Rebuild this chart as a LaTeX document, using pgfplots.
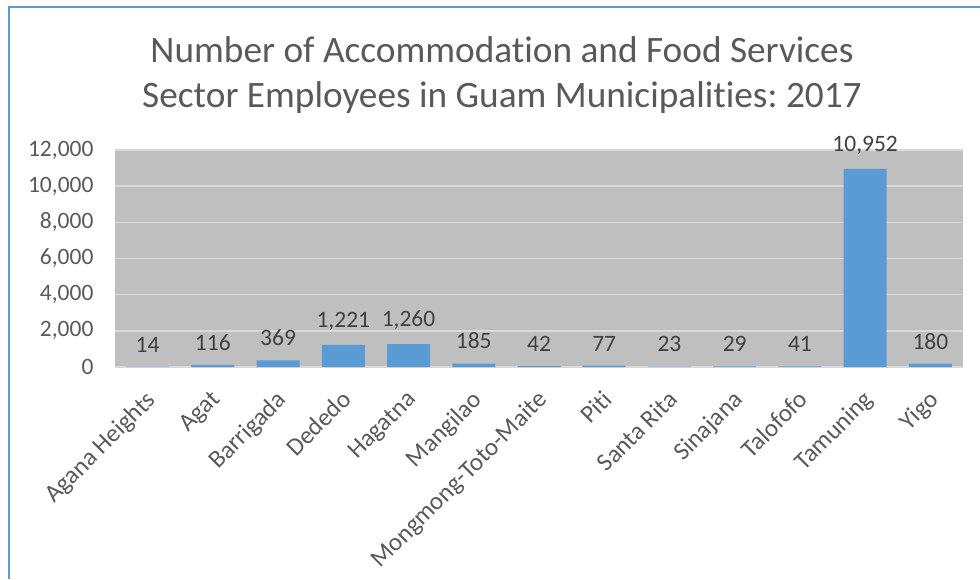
\documentclass[border=0pt]{standalone}
\usepackage{fontspec}
\setmainfont{Carlito}[Ligatures=NoCommon]
\usepackage{pgfplots}
\pgfplotsset{compat=1.18}
\definecolor{barblue}{HTML}{5B9BD5}
\definecolor{plotbg}{HTML}{BFBFBF}
\definecolor{gridc}{HTML}{D9D9D9}
\definecolor{txt}{HTML}{595959}
\definecolor{lbl}{HTML}{404040}
\frenchspacing
\begin{document}
\begin{tikzpicture}[x=1pt,y=1pt]
\useasboundingbox (0,0) rectangle (980,579);
% frame, left and top edges only
\draw[barblue, line width=2pt] (9,0) -- (9,572) -- (980,572);
\node[align=center, text=txt, font=\fontsize{37.3}{45}\selectfont] at (502,504)
  {Number of Accommodation and Food Services\\Sector Employees in Guam Municipalities: 2017};
\begin{axis}[
  at={(115pt,212pt)}, anchor=south west,
  scale only axis, width=848pt, height=217pt,
  axis background/.style={fill=plotbg},
  axis line style={draw=none},
  ybar, bar width=43pt,
  xmin=-0.5, xmax=12.5,
  ymin=0, ymax=12000,
  ytick={0,2000,...,12000},
  xtick={0,...,12},
  xticklabels={Agana Heights,Agat,Barrigada,Dededo,Hagatna,Mangilao,Mongmong-Toto-Maite,Piti,Santa Rita,Sinajana,Talofofo,Tamuning,Yigo},
  major tick length=0pt,
  ymajorgrids, grid style={gridc, line width=1.5pt},
  /pgf/number format/assume math mode=true,
  /pgf/number format/1000 sep={,},
  scaled y ticks=false,
  yticklabel style={font=\fontsize{23.5}{28}\selectfont, text=txt, xshift=-18pt},
  xticklabel style={font=\fontsize{25}{30}\selectfont, text=txt, xshift=-3pt, yshift=-17pt, rotate=45, anchor=north east},
  nodes near coords,
  every node near coord/.append style={font=\fontsize{23.5}{28}\selectfont, text=lbl, yshift=11pt},
  clip=false,
]
\addplot[fill=barblue, draw=none] coordinates {
  (0,14) (1,116) (2,369) (3,1221) (4,1260) (5,185) (6,42)
  (7,77) (8,23) (9,29) (10,41) (11,10952) (12,180)
};
\end{axis}
\end{tikzpicture}
\end{document}
